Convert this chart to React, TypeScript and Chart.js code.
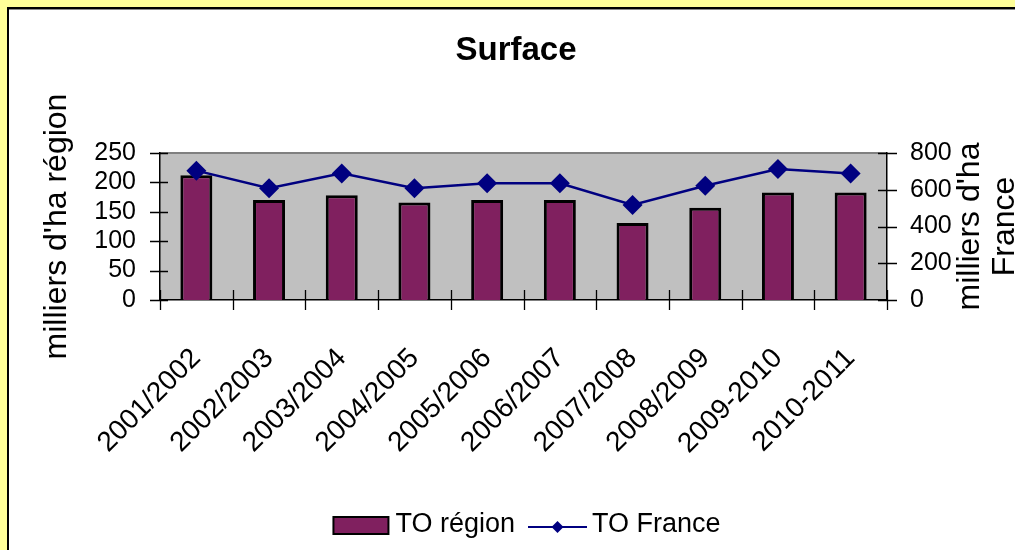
import React, { useEffect, useRef } from "react";
import { Chart, registerables } from "chart.js";

Chart.register(...registerables);

const categories = [
  "2001/2002",
  "2002/2003",
  "2003/2004",
  "2004/2005",
  "2005/2006",
  "2006/2007",
  "2007/2008",
  "2008/2009",
  "2009-2010",
  "2010-2011",
];
const regionValues = [212, 170, 178, 166, 170, 170, 131, 157, 183, 183];
const franceValues = [704, 608, 689, 608, 635, 635, 517, 622, 713, 689];
const leftTickValues = [0, 50, 100, 150, 200, 250];
const rightTickValues = [0, 200, 400, 600, 800];
const chartTitle = "Surface";
const leftAxisTitle = "milliers d'ha région";
const rightAxisTitle = ["milliers d'ha", "France"];
const seriesLabels = ["TO région", "TO France"];

const W = 1015;
const H = 550;
const PLOT = { left: 160, right: 887, top: 153, bottom: 300 };
const FONT = "'Liberation Sans', Arial, sans-serif";
const BAR_COLOR = "#80205F";
const LINE_COLOR = "#000080";

const decor = {
  id: "decor",
  beforeDraw(chart: any) {
    const { ctx, chartArea: a, width, height } = chart;
    ctx.save();
    ctx.fillStyle = "#FFFF99";
    ctx.fillRect(0, 0, width, height);
    ctx.fillStyle = "#FFFFFF";
    ctx.fillRect(7, 7, width - 7, height - 7);
    ctx.fillStyle = "#000000";
    ctx.fillRect(7, 7, width - 7, 2);
    ctx.fillRect(7, 7, 2, height - 7);
    ctx.fillStyle = "#8a8a8a";
    ctx.fillRect(9, 9, width - 9, 1);
    // plot area
    ctx.fillStyle = "#C0C0C0";
    ctx.fillRect(a.left, a.top, a.right - a.left, a.bottom - a.top);
    ctx.strokeStyle = "#808080";
    ctx.lineWidth = 2;
    ctx.beginPath();
    ctx.moveTo(a.left, a.top);
    ctx.lineTo(a.right, a.top);
    ctx.stroke();
    ctx.restore();
  },
  afterDraw(chart: any) {
    const { ctx, chartArea: a, scales } = chart;
    ctx.save();
    // tick marks crossing the axes
    ctx.strokeStyle = "#000";
    ctx.lineWidth = 1.3;
    ctx.beginPath();
    leftTickValues.forEach((v) => {
      const py = Math.round(scales.y.getPixelForValue(v)) + 0.5;
      ctx.moveTo(a.left - 10, py);
      ctx.lineTo(a.left + 8, py);
    });
    rightTickValues.forEach((v) => {
      const py = Math.round(scales.y1.getPixelForValue(v)) + 0.5;
      ctx.moveTo(a.right - 9, py);
      ctx.lineTo(a.right + 10, py);
    });
    const n = categories.length;
    for (let i = 0; i <= n; i++) {
      const px = Math.round(a.left + (i * (a.right - a.left)) / n) + 0.5;
      ctx.moveTo(px, a.bottom - 10);
      ctx.lineTo(px, a.bottom + 10);
    }
    ctx.stroke();

    // chart title
    ctx.fillStyle = "#000";
    ctx.font = `bold 33px ${FONT}`;
    ctx.textAlign = "center";
    ctx.textBaseline = "middle";
    ctx.fillText(chartTitle, 516, 51);

    // axis titles
    ctx.font = `32px ${FONT}`;
    const cy = (a.top + a.bottom) / 2;
    ctx.save();
    ctx.translate(57, cy);
    ctx.rotate(-Math.PI / 2);
    ctx.fillText(leftAxisTitle, 0, 0);
    ctx.restore();
    ctx.save();
    ctx.translate(970, cy);
    ctx.rotate(-Math.PI / 2);
    ctx.fillText(rightAxisTitle[0], 0, 0);
    ctx.fillText(rightAxisTitle[1], 0, 35);
    ctx.restore();

    // legend
    ctx.font = `27px ${FONT}`;
    ctx.textAlign = "left";
    const ly = 525;
    const sw1 = 55;
    const gap = 7;
    const sw2 = 59;
    const t1 = ctx.measureText(chart.data.datasets[0].label).width;
    const t2 = ctx.measureText(chart.data.datasets[1].label).width;
    const total = sw1 + gap + t1 + 13 + sw2 + 5 + t2;
    let x = 527 - total / 2;
    ctx.fillStyle = BAR_COLOR;
    ctx.fillRect(x, ly - 8, sw1, 17);
    ctx.strokeStyle = "#000";
    ctx.lineWidth = 2;
    ctx.strokeRect(x, ly - 8, sw1, 17);
    x += sw1 + gap;
    ctx.fillStyle = "#000";
    ctx.fillText(chart.data.datasets[0].label, x, ly);
    x += t1 + 13;
    ctx.strokeStyle = LINE_COLOR;
    ctx.lineWidth = 2;
    ctx.beginPath();
    ctx.moveTo(x, ly + 2);
    ctx.lineTo(x + sw2, ly + 2);
    ctx.stroke();
    const mx = x + sw2 / 2;
    ctx.fillStyle = LINE_COLOR;
    ctx.beginPath();
    ctx.moveTo(mx - 6, ly + 2);
    ctx.lineTo(mx, ly - 4);
    ctx.lineTo(mx + 6, ly + 2);
    ctx.lineTo(mx, ly + 8);
    ctx.closePath();
    ctx.fill();
    x += sw2 + 5;
    ctx.fillStyle = "#000";
    ctx.fillText(chart.data.datasets[1].label, x, ly);
    ctx.restore();
  },
};

export default function App() {
  const ref = useRef<HTMLCanvasElement | null>(null);

  useEffect(() => {
    if (!ref.current) return;
    Chart.defaults.font.family = FONT;
    const chart = new Chart(ref.current, {
      type: "bar",
      data: {
        labels: categories,
        datasets: [
          {
            type: "bar",
            label: seriesLabels[0],
            data: regionValues,
            backgroundColor: BAR_COLOR,
            borderColor: "#000000",
            borderWidth: 3,
            categoryPercentage: 1,
            barPercentage: 0.44,
            yAxisID: "y",
            order: 1,
          },
          {
            type: "line",
            label: seriesLabels[1],
            data: franceValues,
            borderColor: LINE_COLOR,
            backgroundColor: LINE_COLOR,
            borderWidth: 2.5,
            pointStyle: "rectRot",
            pointRadius: 10,
            pointBorderWidth: 0,
            pointBackgroundColor: LINE_COLOR,
            tension: 0,
            yAxisID: "y1",
            order: 0,
          },
        ],
      },
      plugins: [decor],
      options: {
        responsive: false,
        animation: false,
        devicePixelRatio: 1,
        layout: { padding: { top: PLOT.top, left: 0, right: 0, bottom: 0 } },
        plugins: {
          legend: { display: false },
          title: { display: false },
          tooltip: { enabled: false },
        },
        scales: {
          x: {
            type: "category",
            offset: true,
            grid: { display: false, drawTicks: false },
            border: { display: true, color: "#000", width: 1.5 },
            ticks: {
              autoSkip: false,
              minRotation: 45,
              maxRotation: 45,
              padding: 42,
              color: "#000",
              font: { size: 28 },
            },
            afterFit: (s: any) => {
              s.height = H - PLOT.bottom;
            },
          },
          y: {
            position: "left",
            min: 0,
            max: 250,
            grid: { display: false, drawTicks: false },
            border: { display: true, color: "#000", width: 1.5 },
            ticks: {
              autoSkip: false,
              stepSize: 50,
              padding: 24,
              color: "#000",
              font: { size: 25 },
            },
            afterFit: (s: any) => {
              s.width = PLOT.left;
            },
          },
          y1: {
            position: "right",
            min: 0,
            max: 800,
            grid: { display: false, drawTicks: false },
            border: { display: true, color: "#000", width: 1.5 },
            ticks: {
              autoSkip: false,
              stepSize: 200,
              padding: 23,
              color: "#000",
              font: { size: 25 },
            },
            afterFit: (s: any) => {
              s.width = W - PLOT.right;
            },
          },
        },
      },
    });
    return () => chart.destroy();
  }, []);

  return (
    <div style={{ position: "fixed", left: 0, top: 0, width: W, height: H }}>
      <canvas ref={ref} width={W} height={H} style={{ display: "block" }} />
    </div>
  );
}
